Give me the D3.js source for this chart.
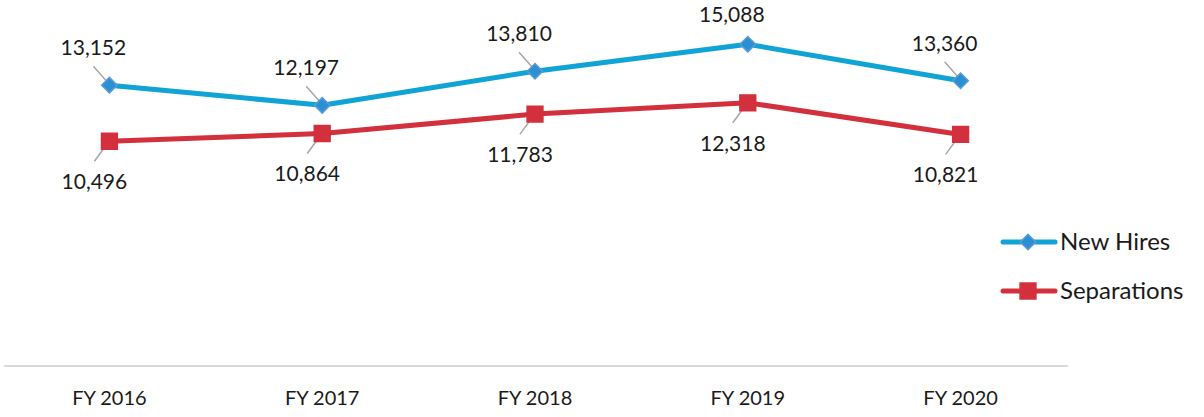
<!DOCTYPE html>
<html>
<head>
<meta charset="utf-8">
<script src="https://cdn.jsdelivr.net/npm/d3@7"></script>
<style>
  body { margin: 0; background: #fff; }
  text { font-family: "Source Sans Pro", "Lato", "Noto Sans", sans-serif; fill: #1a1a1a; }
</style>
</head>
<body>
<svg id="chart" width="1204" height="417"></svg>
<script>
// data
var categories = ['FY 2016', 'FY 2017', 'FY 2018', 'FY 2019', 'FY 2020'];
var newHires = [13152, 12197, 13810, 15088, 13360];
var separations = [10496, 10864, 11783, 12318, 10821];

var svg = d3.select('#chart');
var fmt = d3.format(',');

var x = d3.scaleBand().domain(categories).range([3, 1067]);
var y = d3.scaleLinear().domain([0, 16000]).range([363, 25]);

function cx(c) { return x(c) + x.bandwidth() / 2; }

// baseline axis
svg.append('line')
  .attr('x1', 4).attr('x2', 1068)
  .attr('y1', 366).attr('y2', 366)
  .attr('stroke', '#d9d9d9').attr('stroke-width', 2);

svg.selectAll('.xlab').data(categories).enter().append('text')
  .attr('class', 'xlab')
  .attr('x', function (d) { return cx(d); })
  .attr('y', 405)
  .attr('text-anchor', 'middle')
  .attr('font-size', 20)
  .text(function (d) { return d; });

var series = [
  { name: 'New Hires', values: newHires, line: '#0fa3d6', fill: '#2b8fd3', stroke: '#5b9bd5', shape: d3.symbolSquare, rot: 45, size: 120, ldx: -16, ldy: -30 },
  { name: 'Separations', values: separations, line: '#d2303c', fill: '#d2303c', stroke: '#d2303c', shape: d3.symbolSquare, rot: 0, size: 250, ldx: -15, ldy: 48 }
];

var line = d3.line()
  .x(function (d, i) { return cx(categories[i]); })
  .y(function (d) { return y(d); });

function labelY(s, v) {
  // keep the top label inside the picture
  return Math.max(y(v) + s.ldy, 22);
}

series.forEach(function (s) {
  svg.append('path')
    .datum(s.values)
    .attr('d', line)
    .attr('fill', 'none')
    .attr('stroke', s.line)
    .attr('stroke-width', 5)
    .attr('stroke-linejoin', 'round');

  // leader lines
  s.values.forEach(function (v, i) {
    var px = cx(categories[i]), py = y(v);
    var lx = px + s.ldx, ly = labelY(s, v);
    if (s.ldy < 0) {
      if (py - ly > 24) {
        svg.append('line')
          .attr('x1', lx).attr('y1', ly + 11)
          .attr('x2', px - 1).attr('y2', py - 2)
          .attr('stroke', '#a6a6a6').attr('stroke-width', 1.5);
      }
    } else {
      svg.append('line')
        .attr('x1', lx).attr('y1', ly - 28)
        .attr('x2', px - 1).attr('y2', py + 1)
        .attr('stroke', '#a6a6a6').attr('stroke-width', 1.5);
    }
  });

  svg.selectAll('.m' + s.name.charAt(0)).data(s.values).enter().append('path')
    .attr('d', d3.symbol().type(s.shape).size(s.size))
    .attr('transform', function (d, i) {
      return 'translate(' + cx(categories[i]) + ',' + y(d) + ') rotate(' + s.rot + ')';
    })
    .attr('fill', s.fill)
    .attr('stroke', s.stroke)
    .attr('stroke-width', 1.5);

  svg.selectAll('.l' + s.name.charAt(0)).data(s.values).enter().append('text')
    .attr('x', function (d, i) { return cx(categories[i]) + s.ldx; })
    .attr('y', function (d) { return labelY(s, d); })
    .attr('text-anchor', 'middle')
    .attr('font-size', 21)
    .text(function (d) { return fmt(d); });
});

// legend
series.forEach(function (s, i) {
  var ly = 242 + i * 49;
  svg.append('line')
    .attr('x1', 1003).attr('x2', 1055)
    .attr('y1', ly).attr('y2', ly)
    .attr('stroke', s.line).attr('stroke-width', 5)
    .attr('stroke-linecap', 'round');
  svg.append('path')
    .attr('d', d3.symbol().type(s.shape).size(s.size))
    .attr('transform', 'translate(1028,' + ly + ') rotate(' + s.rot + ')')
    .attr('fill', s.fill)
    .attr('stroke', s.stroke)
    .attr('stroke-width', 1.5);
  svg.append('text')
    .attr('x', 1060)
    .attr('y', ly + 8)
    .attr('font-size', 24)
    .text(s.name);
});
</script>
</body>
</html>
